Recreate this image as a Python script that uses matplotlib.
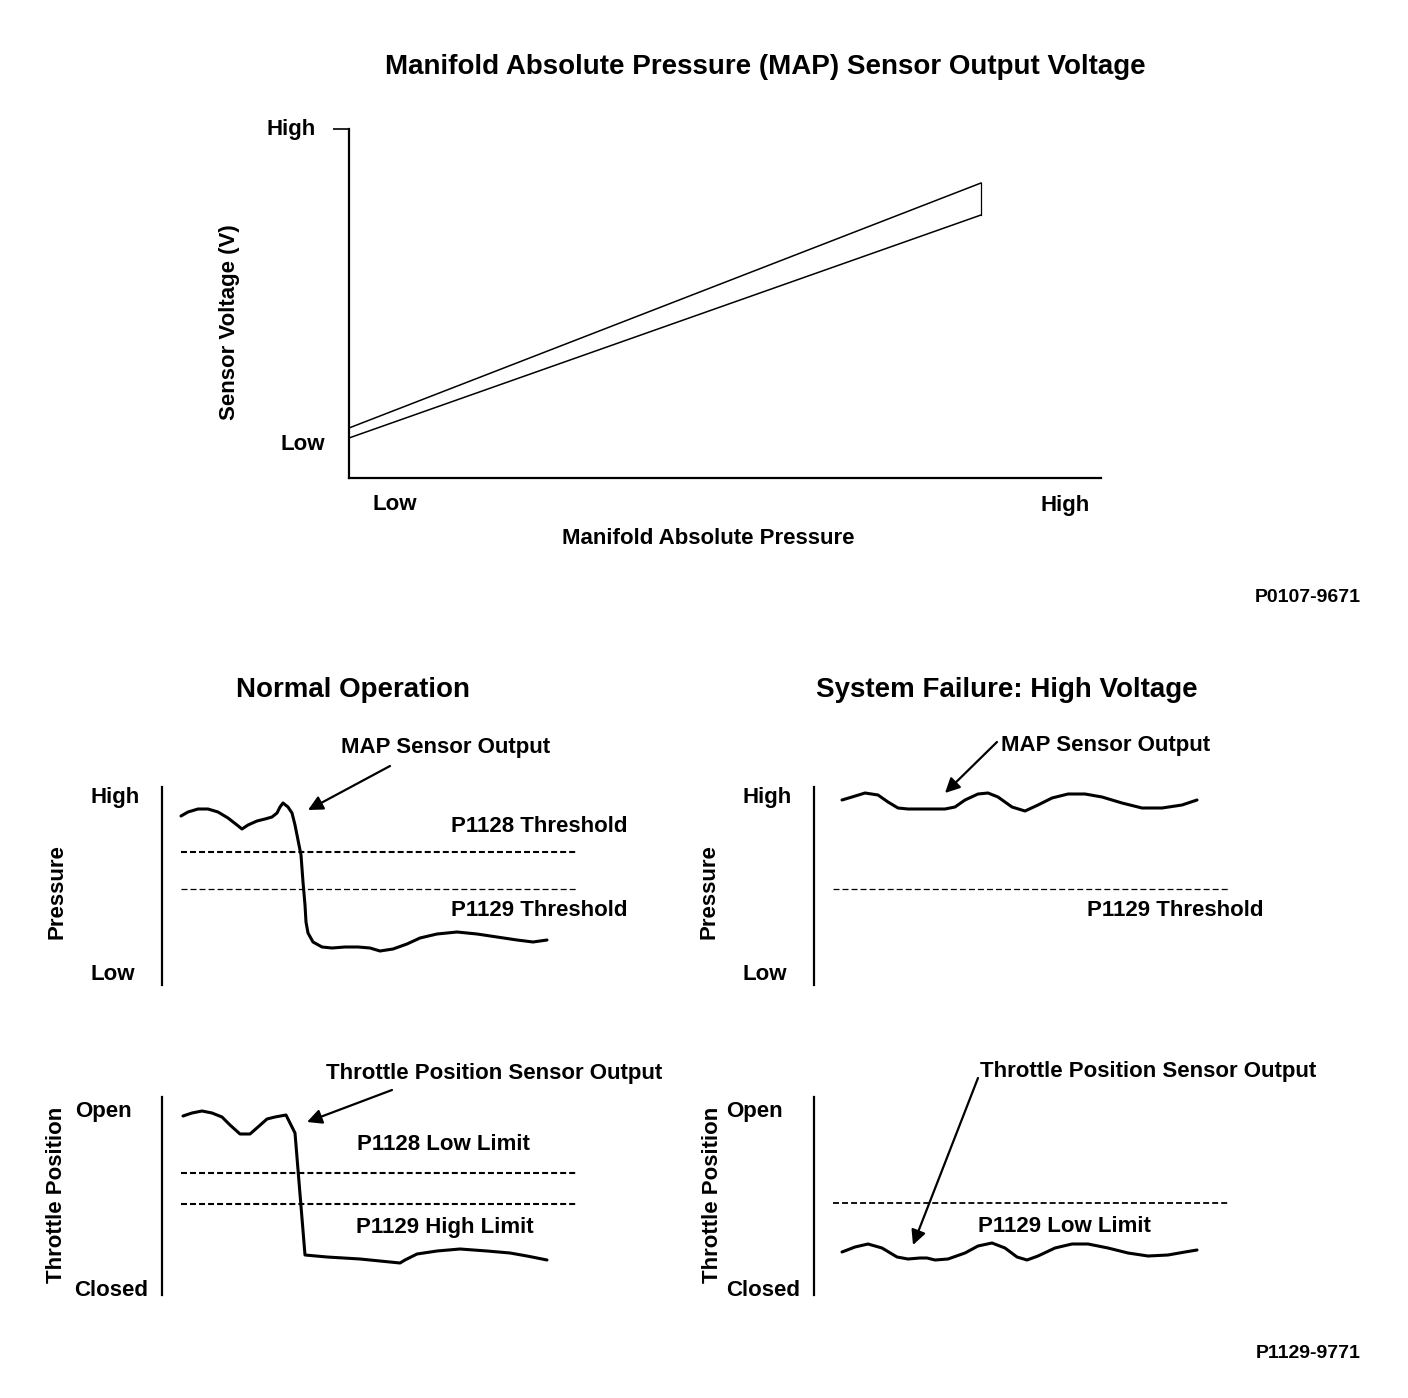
import matplotlib
matplotlib.use("Agg")
import matplotlib.pyplot as plt

# ==== 設定 ====
W, H = 1408, 1398
plt.rcParams["font.family"] = ["Liberation Sans", "DejaVu Sans"]
plt.rcParams["font.weight"] = "bold"
plt.rcParams["lines.scale_dashes"] = False

# ==== データ (画像から読み取り, 単位 = 画像ピクセル) ====
# MAP sensor output band (upper / lower limit lines)
map_x = [349, 981]
map_upper = [428, 183]
map_lower = [438, 215]

# Normal operation: MAP sensor output trace
norm_map_x = [181, 188, 198, 208, 218, 228, 237, 242, 248, 257, 265, 272, 277, 280,
              283, 288, 292, 295, 298, 301, 303, 305, 306, 308, 313, 322, 332, 345,
              358, 370, 380, 393, 407, 420, 437, 457, 477, 497, 517, 533, 547]
norm_map_y = [816, 812, 809, 809, 812, 818, 825, 829, 825, 821, 819, 817, 813, 807,
              803, 807, 813, 825, 840, 855, 882, 905, 922, 933, 942, 947, 948, 947,
              947, 948, 951, 949, 944, 938, 934, 932, 934, 937, 940, 942, 940]

# Normal operation: throttle position sensor trace
norm_tps_x = [183, 192, 202, 212, 222, 230, 240, 250, 258, 267, 275, 286, 295, 305,
              327, 360, 400, 405, 417, 437, 460, 487, 510, 527, 547]
norm_tps_y = [1116, 1113, 1111, 1113, 1117, 1125, 1134, 1134, 1127, 1119, 1117, 1115,
              1133, 1255, 1257, 1259, 1263, 1260, 1254, 1251, 1249, 1251, 1253, 1256, 1260]

# Failure: MAP sensor trace
fail_map_x = [842, 852, 865, 878, 888, 898, 908, 925, 945, 955, 965, 978, 988, 998,
              1012, 1025, 1038, 1052, 1068, 1085, 1102, 1122, 1142, 1162, 1182, 1197]
fail_map_y = [800, 797, 793, 795, 802, 808, 809, 809, 809, 807, 800, 794, 793, 797,
              807, 811, 805, 798, 794, 794, 797, 803, 808, 808, 805, 800]

# Failure: throttle position sensor trace
fail_tps_x = [842, 855, 868, 882, 897, 908, 920, 927, 935, 948, 965, 978, 992, 1005,
              1017, 1027, 1038, 1055, 1072, 1088, 1108, 1128, 1148, 1168, 1185, 1197]
fail_tps_y = [1252, 1247, 1244, 1248, 1257, 1259, 1258, 1258, 1260, 1259, 1253, 1246,
              1243, 1248, 1257, 1260, 1256, 1248, 1244, 1244, 1248, 1253, 1256, 1255,
              1252, 1250]

# thresholds (y position, x start, x end, line width)
norm_p_thresholds = [(852, 181, 577, 1.5), (889, 181, 577, 0.9)]
norm_t_thresholds = [(1173, 181, 577, 1.5), (1204, 181, 577, 1.5)]
fail_p_thresholds = [(889, 833, 1229, 0.9)]
fail_t_thresholds = [(1203, 833, 1229, 1.3)]


fig = plt.figure(figsize=(W / 100, H / 100), dpi=100)

# 全体オーバーレイ (テキスト, 矢印)
ov = fig.add_axes([0, 0, 1, 1])
ov.set_xlim(0, W)
ov.set_ylim(H, 0)
ov.axis("off")


def panel(x0, x1, top, bot, bottom_spine=False):
    ax = fig.add_axes([x0 / W, 1 - bot / H, (x1 - x0) / W, (bot - top) / H])
    ax.set_xlim(x0, x1)
    ax.set_ylim(bot, top)
    ax.patch.set_alpha(0)
    for s in ["top", "right", "bottom"]:
        ax.spines[s].set_visible(False)
    ax.spines["left"].set_linewidth(1.6)
    if bottom_spine:
        ax.spines["bottom"].set_visible(True)
        ax.spines["bottom"].set_linewidth(1.6)
    ax.set_xticks([])
    ax.set_yticks([])
    return ax


def label(x, y, s, size=16, **kw):
    ov.text(x, y + 2, s, fontsize=size, ha="center", va="center", **kw)


big = 20
code = 14

# ==== 上段: MAP センサ出力電圧 ====
ax0 = panel(349, 1101, 129, 478, bottom_spine=True)
ax0.plot(map_x, map_upper, color="black", lw=1.1, clip_on=False)
ax0.plot(map_x, map_lower, color="black", lw=1.1, clip_on=False)
ax0.plot([map_x[1], map_x[1]], [map_upper[1], map_lower[1]], color="black", lw=0.9)
ax0.set_yticks([129])
ax0.tick_params(axis="y", length=11.5, width=1.2, labelleft=False)

label(765, 65, "Manifold Absolute Pressure (MAP) Sensor Output Voltage", big)
label(291, 127, "High")
label(303, 443, "Low")
label(395, 503, "Low")
label(1065, 503, "High")
label(229, 320, "Sensor Voltage (V)", rotation=90)
label(708, 536, "Manifold Absolute Pressure")
label(1308, 596, "P0107-9671", code)

# ==== 下段 ====
label(353, 688, "Normal Operation", big)
label(1007, 688, "System Failure: High Voltage", big)


def draw_thresholds(ax, items):
    for y, xa, xb, lw in items:
        ax.plot([xa, xb], [y, y], color="black", lw=lw, dashes=[4.3, 2.2], clip_on=False)


def trace(ax, xs, ys):
    ax.plot(xs, ys, color="black", lw=2.2, solid_joinstyle="round",
            solid_capstyle="round", clip_on=False)


def arrow(tip, tail):
    ov.annotate("", xy=tip, xytext=tail,
                arrowprops=dict(arrowstyle="-|>", color="black", lw=1.6,
                                mutation_scale=22, shrinkA=0, shrinkB=0))


# Normal - pressure
a1 = panel(162, 600, 787, 985)
trace(a1, norm_map_x, norm_map_y)
draw_thresholds(a1, norm_p_thresholds)
label(446, 745, "MAP Sensor Output")
arrow((308, 810), (390, 766))
label(115, 795, "High")
label(113, 973, "Low")
label(57, 890, "Pressure", rotation=90)
label(539, 825, "P1128 Threshold")
label(539, 908, "P1129 Threshold")

# Normal - throttle
a2 = panel(162, 600, 1097, 1295)
trace(a2, norm_tps_x, norm_tps_y)
draw_thresholds(a2, norm_t_thresholds)
label(494, 1072, "Throttle Position Sensor Output")
arrow((307, 1122), (392, 1090))
label(103, 1109, "Open")
label(111, 1288, "Closed")
label(57, 1193, "Throttle Position", rotation=90)
label(443, 1143, "P1128 Low Limit")
label(445, 1225, "P1129 High Limit")

# Failure - pressure
a3 = panel(814, 1250, 787, 985)
trace(a3, fail_map_x, fail_map_y)
draw_thresholds(a3, fail_p_thresholds)
label(1106, 744, "MAP Sensor Output")
arrow((945, 793), (997, 742))
label(767, 795, "High")
label(765, 973, "Low")
label(709, 890, "Pressure", rotation=90)
label(1175, 908, "P1129 Threshold")

# Failure - throttle
a4 = panel(814, 1250, 1097, 1295)
trace(a4, fail_tps_x, fail_tps_y)
draw_thresholds(a4, fail_t_thresholds)
label(1148, 1070, "Throttle Position Sensor Output")
arrow((913, 1245), (978, 1078))
label(754, 1109, "Open")
label(763, 1289, "Closed")
label(712, 1193, "Throttle Position", rotation=90)
label(1064, 1225, "P1129 Low Limit")

label(1308, 1351, "P1129-9771", code)

fig.savefig("out.png", dpi=100, facecolor="white")
